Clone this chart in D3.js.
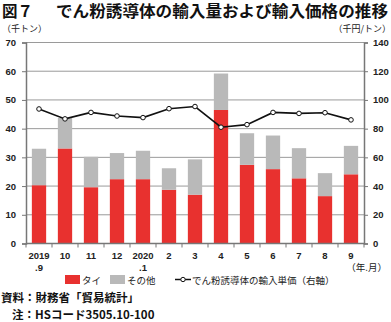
<!DOCTYPE html>
<html><head><meta charset="utf-8">
<script src="https://cdn.jsdelivr.net/npm/d3@7/dist/d3.min.js"></script>
<style>body{margin:0;background:#fff}svg{display:block}text{font-family:"Noto Sans CJK JP",sans-serif}text.num{font-family:"Liberation Sans",Arial,sans-serif}</style>
</head><body><svg id="c" width="391" height="322"></svg>
<script>
const categories = ["2019\n.9","10","11","12","2020\n.1","2","3","4","5","6","7","8","9"];
const thai = [20.3,33.1,19.6,22.4,22.4,18.7,17.0,46.5,27.4,25.9,22.7,16.5,24.1];
const total = [33.0,43.7,30.2,31.5,32.3,26.2,29.3,59.2,38.4,37.6,33.2,24.5,34.0];
const other = total.map((t,i)=>+(t-thai[i]).toFixed(1));
const price = [93.7,86.8,91.3,88.8,87.7,93.9,95.4,81.0,82.8,91.3,90.6,91.1,86.1];
const leftTicks = [0,10,20,30,40,50,60,70];
const rightTicks = [0,20,40,60,80,100,120,140];

const svg = d3.select("#c");
const L=26, R=364, T=42.5, B=243.5;
const x = d3.scaleBand().domain(d3.range(categories.length)).range([L,R]).paddingInner(0.45).paddingOuter(0.225);
const yL = d3.scaleLinear().domain([0,70]).range([B,T]);
const yR = d3.scaleLinear().domain([0,140]).range([B,T]);

// title
svg.append("text").attr("x",2).attr("y",17).attr("font-size",15.5).attr("font-weight","bold").attr("fill","#111").text("図７");
svg.append("text").attr("x",56).attr("y",17).attr("font-size",15.5).attr("font-weight","bold").attr("fill","#111").attr("textLength",332).attr("lengthAdjust","spacingAndGlyphs").text("でん粉誘導体の輸入量および輸入価格の推移");
svg.append("text").attr("x",2).attr("y",32).attr("font-size",9).attr("fill","#222").text("（千トン）");
svg.append("text").attr("x",391).attr("y",32).attr("text-anchor","end").attr("font-size",9).attr("fill","#222").text("（千円/トン）");

// grid
svg.append("g").selectAll("line").data(leftTicks.slice(1)).join("line")
  .attr("x1",L).attr("x2",R).attr("y1",d=>yL(d)).attr("y2",d=>yL(d))
  .attr("stroke","#9a9a9a").attr("stroke-width",1);

// bars
const stack = d3.stack().keys(["thai","other"])(thai.map((t,i)=>({thai:t,other:other[i]})));
const colors = {thai:"#e8312f", other:"#b9b9b9"};
stack.forEach(s=>{
  svg.append("g").selectAll("rect").data(s).join("rect")
    .attr("x",(d,i)=>x(i)).attr("width",x.bandwidth())
    .attr("y",d=>yL(d[1])).attr("height",d=>yL(d[0])-yL(d[1]))
    .attr("fill",colors[s.key]);
});

// axes
const axL = svg.append("g").attr("transform",`translate(${L},0)`).call(d3.axisLeft(yL).tickValues(leftTicks).tickSize(4).tickPadding(6));
const axR = svg.append("g").attr("transform",`translate(${R},0)`).call(d3.axisRight(yR).tickValues(rightTicks).tickSize(4).tickPadding(5));
[axL,axR].forEach(a=>{
  a.select(".domain").attr("stroke","#777").attr("stroke-width",1.5);
  a.selectAll(".tick line").attr("stroke","#777");
  a.selectAll(".tick text").attr("class","num").attr("font-size",9.5).attr("font-weight","bold").attr("fill","#222");
});
// bottom axis
const xb = d3.scaleLinear().domain([0,categories.length]).range([L,R]);
svg.append("line").attr("x1",L).attr("x2",R).attr("y1",B).attr("y2",B).attr("stroke","#777").attr("stroke-width",1.5);
svg.append("g").selectAll("line").data(d3.range(categories.length+1)).join("line")
  .attr("x1",d=>xb(d)).attr("x2",d=>xb(d)).attr("y1",B).attr("y2",B+4).attr("stroke","#777");
const xlab = [];
categories.forEach((c,i)=>c.split("\n").forEach((p,j)=>xlab.push({i,j,p})));
svg.append("g").selectAll("text").data(xlab).join("text").attr("class","num")
  .attr("x",d=>x(d.i)+x.bandwidth()/2).attr("y",d=>259+d.j*11.5).attr("text-anchor","middle")
  .attr("font-size",9.5).attr("font-weight","bold").attr("fill","#222")
  .text(d=>d.p);
svg.append("text").attr("x",387).attr("y",271).attr("text-anchor","end").attr("font-size",9.5).attr("fill","#222").text("（年.月）");

// line
const line = d3.line().x((d,i)=>x(i)+x.bandwidth()/2).y(d=>yR(d));
svg.append("path").datum(price).attr("d",line).attr("fill","none").attr("stroke","#111").attr("stroke-width",1.6);
svg.append("g").selectAll("circle").data(price).join("circle")
  .attr("cx",(d,i)=>x(i)+x.bandwidth()/2).attr("cy",d=>yR(d)).attr("r",2.3)
  .attr("fill","#fff").attr("stroke","#111").attr("stroke-width",1);

// legend
const lg = svg.append("g");
lg.append("rect").attr("x",65).attr("y",275).attr("width",15).attr("height",9).attr("fill",colors.thai);
lg.append("text").attr("x",82).attr("y",283.5).attr("font-size",9.5).attr("fill","#222").text("タイ");
lg.append("rect").attr("x",110).attr("y",275).attr("width",15).attr("height",9).attr("fill",colors.other);
lg.append("text").attr("x",127).attr("y",283.5).attr("font-size",9.5).attr("fill","#222").text("その他");
lg.append("line").attr("x1",175).attr("x2",191).attr("y1",279.5).attr("y2",279.5).attr("stroke","#111").attr("stroke-width",1.5);
lg.append("circle").attr("cx",183).attr("cy",279.5).attr("r",2.2).attr("fill","#fff").attr("stroke","#111");
lg.append("text").attr("x",192).attr("y",283.5).attr("font-size",9.5).attr("fill","#222").text("でん粉誘導体の輸入単価（右軸）");

// source
svg.append("text").attr("x",1).attr("y",302).attr("font-size",11.5).attr("font-weight","bold").attr("fill","#111").text("資料：財務省「貿易統計」");
svg.append("text").attr("x",12).attr("y",319).attr("font-size",11.5).attr("font-weight","bold").attr("fill","#111").text("注：HSコード3505.10-100");
</script></body></html>
